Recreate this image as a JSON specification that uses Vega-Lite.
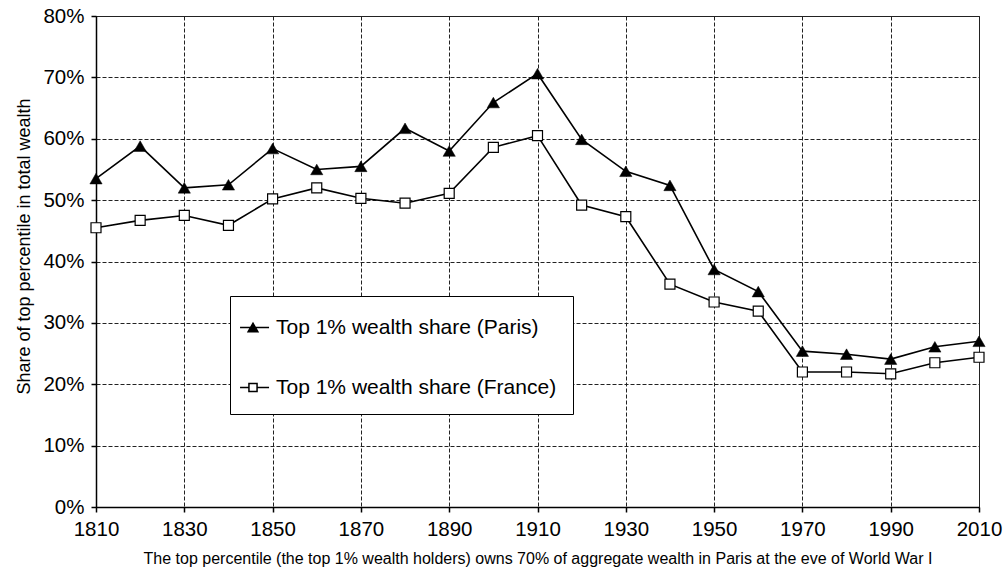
{
  "$schema": "https://vega.github.io/schema/vega-lite/v6.json",
  "autosize": "none",
  "width": 883,
  "height": 491,
  "padding": {"left": 96, "top": 16, "right": 26, "bottom": 63},
  "background": "white",
  "config": {
    "font": "Liberation Sans",
    "view": {"stroke": "#222", "strokeWidth": 1},
    "axis": {
      "domainColor": "black",
      "domainWidth": 1.5,
      "tickColor": "black",
      "tickWidth": 1.5,
      "tickSize": 5,
      "labelColor": "black",
      "labelFont": "Liberation Sans",
      "labelFontSize": 20.5,
      "labelPadding": 7,
      "labelFlush": false,
      "gridColor": "#222",
      "gridDash": [4, 2],
      "gridWidth": 1,
      "gridOpacity": 1,
      "titleColor": "black",
      "titleFont": "Liberation Sans",
      "titleFontWeight": "normal"
    },
    "legend": {
      "title": null,
      "orient": "none",
      "legendX": 134,
      "legendY": 280,
      "direction": "vertical",
      "fillColor": "white",
      "strokeColor": "black",
      "padding": 16,
      "rowPadding": 34,
      "symbolSize": 841,
      "symbolStrokeColor": "black",
      "symbolStrokeWidth": 1.5,
      "labelOffset": -1,
      "labelFontSize": 21,
      "labelFont": "Liberation Sans",
      "labelColor": "black",
      "labelLimit": 400
    }
  },
  "data": {
    "values": [
      {"year": 1810, "series": "Paris", "value": 53.5},
      {"year": 1820, "series": "Paris", "value": 58.8},
      {"year": 1830, "series": "Paris", "value": 52.0},
      {"year": 1840, "series": "Paris", "value": 52.5},
      {"year": 1850, "series": "Paris", "value": 58.4},
      {"year": 1860, "series": "Paris", "value": 55.0},
      {"year": 1870, "series": "Paris", "value": 55.5},
      {"year": 1880, "series": "Paris", "value": 61.7},
      {"year": 1890, "series": "Paris", "value": 58.0},
      {"year": 1900, "series": "Paris", "value": 65.9},
      {"year": 1910, "series": "Paris", "value": 70.6},
      {"year": 1920, "series": "Paris", "value": 59.9},
      {"year": 1930, "series": "Paris", "value": 54.7},
      {"year": 1940, "series": "Paris", "value": 52.4},
      {"year": 1950, "series": "Paris", "value": 38.7},
      {"year": 1960, "series": "Paris", "value": 35.1},
      {"year": 1970, "series": "Paris", "value": 25.4},
      {"year": 1980, "series": "Paris", "value": 24.9},
      {"year": 1990, "series": "Paris", "value": 24.1},
      {"year": 2000, "series": "Paris", "value": 26.1},
      {"year": 2010, "series": "Paris", "value": 27.0},
      {"year": 1810, "series": "France", "value": 45.5},
      {"year": 1820, "series": "France", "value": 46.7},
      {"year": 1830, "series": "France", "value": 47.5},
      {"year": 1840, "series": "France", "value": 45.9},
      {"year": 1850, "series": "France", "value": 50.2},
      {"year": 1860, "series": "France", "value": 52.0},
      {"year": 1870, "series": "France", "value": 50.3},
      {"year": 1880, "series": "France", "value": 49.5},
      {"year": 1890, "series": "France", "value": 51.1},
      {"year": 1900, "series": "France", "value": 58.6},
      {"year": 1910, "series": "France", "value": 60.5},
      {"year": 1920, "series": "France", "value": 49.2},
      {"year": 1930, "series": "France", "value": 47.3},
      {"year": 1940, "series": "France", "value": 36.3},
      {"year": 1950, "series": "France", "value": 33.4},
      {"year": 1960, "series": "France", "value": 31.9},
      {"year": 1970, "series": "France", "value": 22.0},
      {"year": 1980, "series": "France", "value": 22.0},
      {"year": 1990, "series": "France", "value": 21.7},
      {"year": 2000, "series": "France", "value": 23.5},
      {"year": 2010, "series": "France", "value": 24.4}
    ]
  },
  "encoding": {
    "x": {
      "field": "year",
      "type": "quantitative",
      "scale": {"domain": [1810, 2010], "nice": false, "zero": false},
      "axis": {
        "values": [1810, 1830, 1850, 1870, 1890, 1910, 1930, 1950, 1970, 1990, 2010],
        "format": "d",
        "title": "The top percentile (the top 1% wealth holders) owns 70% of aggregate wealth in Paris at the eve of World War I",
        "titleFontSize": 16,
        "titleBaseline": "alphabetic",
        "titleY": 56
      }
    },
    "y": {
      "field": "value",
      "type": "quantitative",
      "scale": {"domain": [0, 80], "nice": false},
      "axis": {
        "values": [0, 10, 20, 30, 40, 50, 60, 70, 80],
        "labelExpr": "datum.value + '%'",
        "title": "Share of top percentile in total wealth",
        "titleFontSize": 18,
        "titleAngle": -90,
        "titleBaseline": "alphabetic",
        "titleAlign": "center",
        "titleX": -67,
        "titleY": 230
      }
    }
  },
  "layer": [
    {
      "mark": {"type": "line", "color": "black", "strokeWidth": 1.6},
      "encoding": {"detail": {"field": "series"}}
    },
    {
      "transform": [{"filter": "datum.series == 'France'"}],
      "mark": {"type": "point", "shape": "square", "size": 100, "filled": true, "fill": "white", "stroke": "black", "strokeWidth": 1.2, "opacity": 1}
    },
    {
      "transform": [{"filter": "datum.series == 'Paris'"}],
      "mark": {"type": "point", "shape": "triangle-up", "size": 150, "filled": true, "fill": "black", "stroke": "black", "strokeWidth": 0.5, "opacity": 1}
    },
    {
      "transform": [{"filter": "datum.year < 0"}],
      "mark": {"type": "point", "filled": true, "strokeWidth": 1.5, "opacity": 1},
      "encoding": {
        "shape": {
          "field": "series",
          "type": "nominal",
          "scale": {
            "domain": ["Paris", "France"],
            "range": [
              "M-1.48,0H0.52M-0.92,0.29L-0.586,-0.29L-0.25,0.29Z",
              "M-1.48,0H-0.866M-0.306,0H0.52M-0.866,-0.28H-0.306V0.28H-0.866Z"
            ]
          },
          "legend": {"labelExpr": "'Top 1% wealth share (' + datum.label + ')'"}
        },
        "fill": {
          "field": "series",
          "type": "nominal",
          "scale": {"domain": ["Paris", "France"], "range": ["black", "white"]},
          "legend": {"labelExpr": "'Top 1% wealth share (' + datum.label + ')'"}
        },
        "stroke": {
          "field": "series",
          "type": "nominal",
          "scale": {"domain": ["Paris", "France"], "range": ["black", "black"]},
          "legend": {"labelExpr": "'Top 1% wealth share (' + datum.label + ')'"}
        }
      }
    }
  ]
}
